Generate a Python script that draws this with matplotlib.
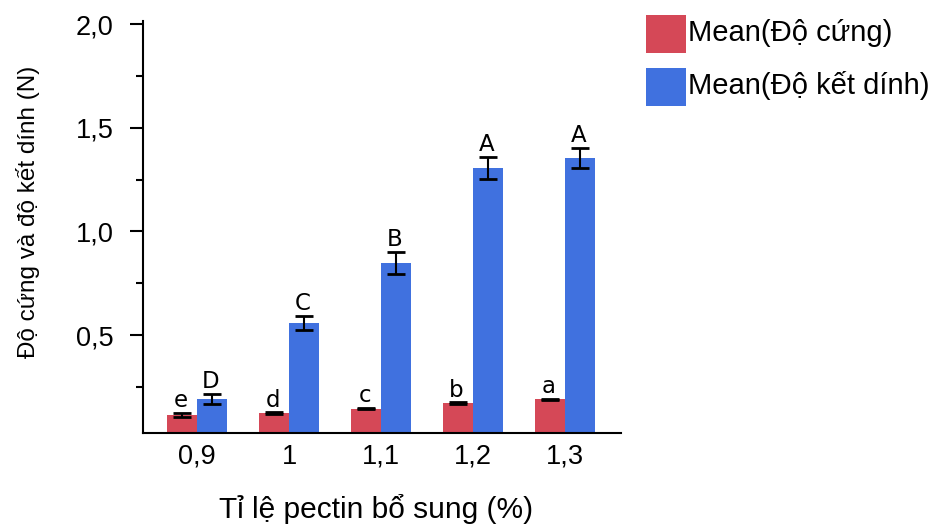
import matplotlib
matplotlib.use("Agg")
import matplotlib.pyplot as plt
from matplotlib.patches import Rectangle
from matplotlib.ticker import FixedLocator
import numpy as np

categories = ["0,9", "1", "1,1", "1,2", "1,3"]
do_cung = [0.114, 0.124, 0.145, 0.172, 0.191]
do_cung_err = [0.011, 0.004, 0.004, 0.004, 0.002]
do_ket_dinh = [0.191, 0.558, 0.848, 1.306, 1.354]
do_ket_dinh_err = [0.025, 0.034, 0.053, 0.055, 0.049]
letters_cung = ["e", "d", "c", "b", "a"]
letters_kd = ["D", "C", "B", "A", "A"]
series_names = ["Mean(Độ cứng)", "Mean(Độ kết dính)"]
y_major = [0.5, 1.0, 1.5, 2.0]
y_major_labels = ["0,5", "1,0", "1,5", "2,0"]
y_minor = [0.25, 0.75, 1.25, 1.75]

RED = "#D54857"
BLUE = "#4071DF"
FONT = ["Liberation Sans", "DejaVu Sans"]

fig = plt.figure(figsize=(9.45, 5.24), dpi=100)
W, H = 945, 524
left, right, top, bottom = 143.3, 620.7, 20.7, 432.7
ax = fig.add_axes([left / W, 1 - bottom / H, (right - left) / W, (bottom - top) / H])

x = np.arange(len(categories))
bw = 0.326
ax.bar(x - bw / 2, do_cung, width=bw, color=RED, zorder=2)
ax.bar(x + bw / 2, do_ket_dinh, width=bw, color=BLUE, zorder=2)
ekw = dict(fmt="none", ecolor="black", elinewidth=1.5, capsize=6.8, capthick=2.0, zorder=3)
ax.errorbar(x - bw / 2, do_cung, yerr=do_cung_err, **ekw)
ax.errorbar(x + bw / 2, do_ket_dinh, yerr=do_ket_dinh_err, **ekw)

for xi, v, e, t in zip(x - bw / 2, do_cung, do_cung_err, letters_cung):
    ax.annotate(t, (xi, v + e), xytext=(-1, 4), textcoords="offset points",
                ha="center", va="baseline", fontsize=16.5, family="DejaVu Sans")
for xi, v, e, t in zip(x + bw / 2, do_ket_dinh, do_ket_dinh_err, letters_kd):
    ax.annotate(t, (xi, v + e), xytext=(-1, 4), textcoords="offset points",
                ha="center", va="baseline", fontsize=16.5, family="DejaVu Sans")

ax.set_xlim(-0.584, 4.605)
ax.set_ylim(0.029, 2.017)

ax.set_xticks(x)
ax.set_xticklabels(categories, family=FONT, fontsize=19.5)
ax.tick_params(axis="x", length=0, pad=8)
ax.yaxis.set_major_locator(FixedLocator(y_major))
ax.set_yticklabels(y_major_labels, family=FONT, fontsize=19.5)
ax.yaxis.set_minor_locator(FixedLocator(y_minor))
ax.tick_params(axis="y", which="major", length=9.4, width=1.5, pad=12)
ax.tick_params(axis="y", which="minor", length=4.7, width=1.5)

for s in ["top", "right"]:
    ax.spines[s].set_visible(False)
for s in ["left", "bottom"]:
    ax.spines[s].set_linewidth(1.5)
    ax.spines[s].set_zorder(4)

ax.set_xlabel("Tỉ lệ pectin bổ sung (%)", family=FONT, fontsize=21.5)
ax.xaxis.set_label_coords(0.487, -0.150)
ax.set_ylabel("Độ cứng và độ kết dính (N)", family=FONT, fontsize=17.5)
ax.yaxis.set_label_coords(-0.2164, 0.537)

# legend drawn as figure-level patches and texts
leg_rows = [(15, 53, RED), (68, 106, BLUE)]
for (y0, y1, col), name in zip(leg_rows, series_names):
    fig.add_artist(Rectangle((646 / W, 1 - y1 / H), 40 / W, (y1 - y0) / H,
                             transform=fig.transFigure, facecolor=col, edgecolor="none"))
    fig.text(688 / W, 1 - ((y0 + y1) / 2 - 1) / H, name, family=FONT, fontsize=21,
             ha="left", va="center")

fig.savefig("out.png", dpi=100)
